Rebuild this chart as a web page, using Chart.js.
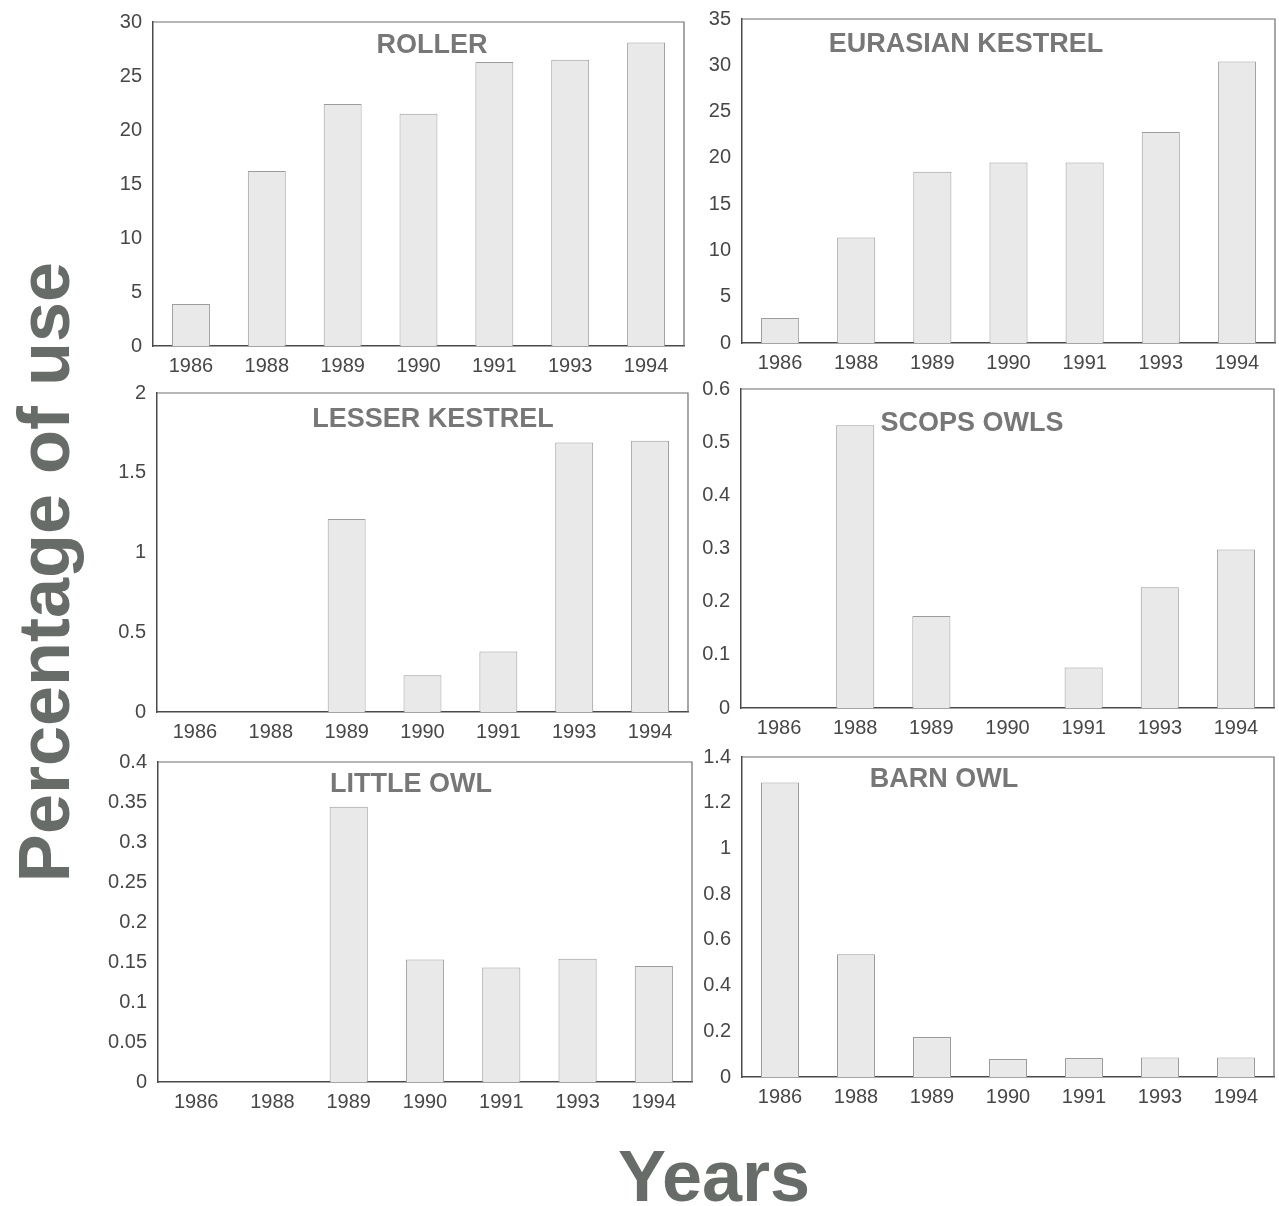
<!DOCTYPE html>
<html>
<head>
<meta charset="utf-8">
<title>Percentage of use by year</title>
<script src="https://cdn.jsdelivr.net/npm/chart.js@4.4.1/dist/chart.umd.min.js"></script>
<style>
  html, body { margin: 0; padding: 0; background: #ffffff; }
  body { position: relative; width: 1279px; height: 1206px; overflow: hidden; }
  .panel { position: absolute; }
  .big-label {
    position: absolute;
    font-family: "Liberation Sans", Arial, Helvetica, sans-serif;
    font-weight: bold;
    font-size: 72px;
    line-height: 72px;
    color: #686c69;
    text-align: center;
    white-space: nowrap;
  }
</style>
</head>
<body>

<div class="big-label" style="left:-306px; top:536px; width:700px; height:72px; transform:rotate(-90deg);">Percentage of use</div>
<div class="big-label" style="left:514px; top:1140px; width:400px; height:72px;">Years</div>

<script>
// Survey years shared by all six panels
const years = ['1986', '1988', '1989', '1990', '1991', '1993', '1994'];

// Percentage of use per species and year
const rollerValues          = [3.9, 16.2, 22.4, 21.5, 26.3, 26.5, 28.1];
const eurasianKestrelValues = [2.7, 11.4, 18.5, 19.5, 19.5, 22.8, 30.4];
const lesserKestrelValues   = [0, 0, 1.21, 0.23, 0.38, 1.69, 1.70];
const scopsOwlValues        = [0, 0.532, 0.173, 0, 0.076, 0.227, 0.298];
const littleOwlValues       = [0, 0, 0.344, 0.153, 0.143, 0.154, 0.145];
const barnOwlValues         = [1.288, 0.537, 0.175, 0.079, 0.083, 0.085, 0.085];

// Y-axis tick values per panel
const rollerTicks          = [0, 5, 10, 15, 20, 25, 30];
const eurasianKestrelTicks = [0, 5, 10, 15, 20, 25, 30, 35];
const lesserKestrelTicks   = [0, 0.5, 1, 1.5, 2];
const scopsOwlTicks        = [0, 0.1, 0.2, 0.3, 0.4, 0.5, 0.6];
const littleOwlTicks       = [0, 0.05, 0.1, 0.15, 0.2, 0.25, 0.3, 0.35, 0.4];
const barnOwlTicks         = [0, 0.2, 0.4, 0.6, 0.8, 1, 1.2, 1.4];

const FONT = '"Liberation Sans", Arial, Helvetica, sans-serif';
const Y_AXIS_W = 60, X_AXIS_H = 35, PAD_TOP = 15, PAD_RIGHT = 4;

// Panel frames (plot-area edges on the page) and title placement
const panels = [
  { title: 'ROLLER',           values: rollerValues,          ticks: rollerTicks,          left: 153, right: 684,  top: 22,  bottom: 346,  titleX: 432, titleBase: 53 },
  { title: 'EURASIAN KESTREL', values: eurasianKestrelValues, ticks: eurasianKestrelTicks, left: 742, right: 1275, top: 19,  bottom: 343,  titleX: 966, titleBase: 52 },
  { title: 'LESSER KESTREL',   values: lesserKestrelValues,   ticks: lesserKestrelTicks,   left: 157, right: 688,  top: 393, bottom: 712,  titleX: 433, titleBase: 427 },
  { title: 'SCOPS OWLS',       values: scopsOwlValues,        ticks: scopsOwlTicks,        left: 741, right: 1274, top: 389, bottom: 708,  titleX: 972, titleBase: 431 },
  { title: 'LITTLE OWL',       values: littleOwlValues,       ticks: littleOwlTicks,       left: 158, right: 692,  top: 762, bottom: 1082, titleX: 411, titleBase: 792 },
  { title: 'BARN OWL',         values: barnOwlValues,         ticks: barnOwlTicks,         left: 742, right: 1274, top: 757, bottom: 1077, titleX: 944, titleBase: 787 }
];

// Frame the plot area on top/right and write the species name inside it
const framePlugin = {
  id: 'frameAndTitle',
  afterDraw(chart, args, opts) {
    const { ctx, chartArea: a } = chart;
    ctx.save();
    ctx.strokeStyle = '#6e6e6e';
    ctx.lineWidth = 1.2;
    ctx.beginPath();
    ctx.moveTo(a.left, a.top);
    ctx.lineTo(a.right, a.top);
    ctx.lineTo(a.right, a.bottom);
    ctx.stroke();
    ctx.fillStyle = '#777777';
    ctx.font = 'bold 27px ' + FONT;
    ctx.textAlign = 'center';
    ctx.textBaseline = 'alphabetic';
    ctx.fillText(opts.text, opts.x, opts.y);
    ctx.restore();
  }
};

function fmt(v) {
  return String(+Number(v).toFixed(4));
}

panels.forEach((p) => {
  const cLeft = p.left - Y_AXIS_W;
  const cTop = p.top - PAD_TOP;
  const w = (p.right - p.left) + Y_AXIS_W + PAD_RIGHT;
  const h = (p.bottom - p.top) + PAD_TOP + X_AXIS_H;

  const holder = document.createElement('div');
  holder.className = 'panel';
  holder.style.left = cLeft + 'px';
  holder.style.top = cTop + 'px';
  holder.style.width = w + 'px';
  holder.style.height = h + 'px';
  const canvas = document.createElement('canvas');
  holder.appendChild(canvas);
  document.body.appendChild(holder);

  const yMax = p.ticks[p.ticks.length - 1];

  new Chart(canvas, {
    type: 'bar',
    data: {
      labels: years,
      datasets: [{
        data: p.values,
        backgroundColor: '#e9e9e9',
        borderColor: '#9c9c9c',
        borderWidth: 1,
        barPercentage: 0.5,
        categoryPercentage: 1.0
      }]
    },
    options: {
      responsive: true,
      maintainAspectRatio: false,
      animation: false,
      events: [],
      layout: { padding: { top: PAD_TOP, right: PAD_RIGHT, left: 0, bottom: 0 } },
      plugins: {
        legend: { display: false },
        tooltip: { enabled: false },
        frameAndTitle: { text: p.title, x: p.titleX - cLeft, y: p.titleBase - cTop }
      },
      scales: {
        x: {
          offset: true,
          grid: { display: false },
          border: { display: true, color: '#4a4a4a', width: 1.5 },
          ticks: { color: '#474747', font: { family: FONT, size: 20 }, padding: 0, maxRotation: 0, autoSkip: false },
          afterFit(scale) { scale.height = X_AXIS_H; }
        },
        y: {
          min: 0,
          max: yMax,
          grid: { display: false },
          border: { display: true, color: '#4a4a4a', width: 1.5 },
          ticks: { color: '#474747', font: { family: FONT, size: 20 }, padding: 3, callback: (v) => fmt(v) },
          afterBuildTicks(scale) { scale.ticks = p.ticks.map((v) => ({ value: v })); },
          afterFit(scale) { scale.width = Y_AXIS_W; }
        }
      }
    },
    plugins: [framePlugin]
  });
});
</script>
</body>
</html>
